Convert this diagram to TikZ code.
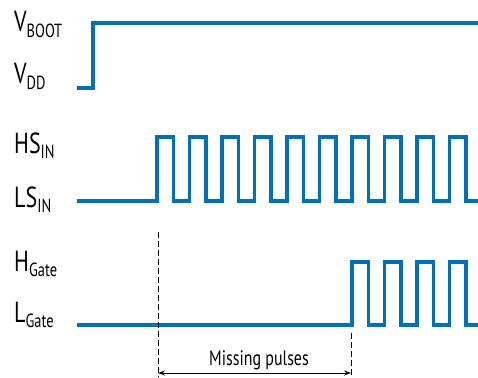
\documentclass[tikz,border=0pt]{standalone}
\usepackage{fontspec}
\setmainfont{PT Sans}[FakeStretch=0.76]
\usetikzlibrary{arrows.meta}
\definecolor{wave}{RGB}{0,112,186}
\newcommand\siglbl[2]{#1\raisebox{-0.2em}{\fontsize{19}{19}\selectfont #2}}
\tikzset{
  wavestyle/.style={draw=wave, line width=3.6pt, line join=miter},
  lbl/.style={anchor=base west, inner sep=0pt, font=\fontsize{29}{29}\selectfont},
  guide/.style={draw=black, line width=0.9pt, dash pattern=on 6pt off 3pt},
  dim/.style={draw=black, line width=1pt, {Stealth[length=7pt,width=5pt]}-{Stealth[length=7pt,width=5pt]}}
}
\begin{document}
\begin{tikzpicture}[x=1pt,y=-1pt]
\useasboundingbox (0,0) rectangle (478,377);
% labels
\node[lbl] (vboot) at (14,32) {\siglbl{V}{BOOT}};
\node[lbl] (vdd) at (14,84) {\siglbl{V}{DD}};
\node[lbl] (hsin) at (14,153) {\siglbl{HS}{IN}};
\node[lbl] (lsin) at (14,207) {\siglbl{LS}{IN}};
\node[lbl] (hgate) at (14,271) {\siglbl{H}{Gate}};
\node[lbl] (lgate) at (14,322) {\siglbl{L}{Gate}};
% supply step
\draw[wavestyle] (77,88) -- (93,88) -- (93,23) -- (478,23);
% HS/LS input
\draw[wavestyle] (77,201) -- (157,201)
  \foreach \k in {0,...,9} {
    -- ({157+32.5*\k},201) -- ({157+32.5*\k},137) -- ({173.5+32.5*\k},137) -- ({173.5+32.5*\k},201)
  } -- (478,201);
% gate
\draw[wavestyle] (77,325) -- (352,325)
  \foreach \k in {6,...,9} {
    -- ({157+32.5*\k},325) -- ({157+32.5*\k},262) -- ({173.5+32.5*\k},262) -- ({173.5+32.5*\k},325)
  } -- (478,325);
% guides
\coordinate (g1top) at (158,232);
\coordinate (g1bot) at (158,377);
\coordinate (g2top) at (351,333);
\coordinate (g2bot) at (351,377);
\draw[guide] (g1top) -- (g1bot);
\draw[guide] (g2top) -- (g2bot);
\coordinate (a1) at (158,373);
\coordinate (a2) at (351,373);
\draw[dim] (a1) -- (a2);
\node[anchor=base, inner sep=0pt, font=\fontsize{21}{21}\selectfont] (missing) at (259,365) {Missing pulses};
\end{tikzpicture}
\end{document}
